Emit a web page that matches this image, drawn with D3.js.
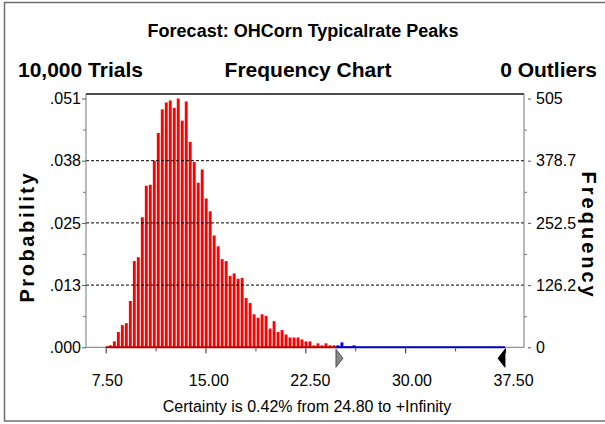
<!DOCTYPE html>
<html>
<head>
<meta charset="utf-8">
<script src="https://cdn.jsdelivr.net/npm/d3@7"></script>
<style>
  html, body { margin: 0; padding: 0; background: #fff; }
  svg { display: block; font-family: "Liberation Sans", Arial, sans-serif; }
</style>
</head>
<body>
<svg id="chart" width="605" height="424"></svg>
<script>
// Forecast histogram: 10,000 trials, bins of 0.3 starting at 7.7
const trials = 10000;
const binStart = 7.7;
const binWidth = 0.3;
const counts = [
  4, 12, 31, 45, 49, 94, 175, 183, 264, 328,
  330, 379, 435, 483, 497, 501, 486, 505, 460, 499,
  417, 376, 334, 361, 302, 276, 227, 205, 179, 175,
  145, 150, 139, 141, 100, 90, 67, 60, 67, 64,
  38, 53, 31, 35, 26, 20, 20, 20, 16, 12,
  12, 4, 8, 4, 8, 4, 4, 4, 10, 2,
  2, 4
];
const certaintyFrom = 24.80;
const displayMin = 7.5;
const displayMax = 37.5;

const xMajorTicks = [7.5, 15, 22.5, 30, 37.5];
const xMinorTicks = [11.25, 18.75, 26.25, 33.75];
const freqTicks = [0, 126.25, 252.5, 378.75, 505];
const freqMinor = [63.125, 189.375, 315.625, 441.875];
const probLabels = [".000", ".013", ".025", ".038", ".051"];
const freqLabels = ["0", "126.2", "252.5", "378.7", "505"];

const titleText = "Forecast: OHCorn Typicalrate Peaks";
const trialsText = "10,000 Trials";
const chartKind = "Frequency Chart";
const outliersText = "0 Outliers";
const certaintyText = "Certainty is 0.42% from 24.80 to +Infinity";

const svg = d3.select("#chart");

const plot = { left: 86, right: 524, top: 94, bottom: 347.3 };

const x = d3.scaleLinear().domain([displayMin, displayMax]).range([105.7, 505]);
// tick captions sit a little right of their tick marks
const xLabel = d3.scaleLinear().domain([displayMin, displayMax]).range([106.7, 513]);
const y = d3.scaleLinear().domain([0, 505]).range([plot.bottom, 98.5]);

// outer frame
svg.append("rect")
  .attr("x", 4.5).attr("y", 2.5).attr("width", 640).attr("height", 418.5)
  .attr("fill", "none").attr("stroke", "#707070").attr("stroke-width", 1.5);

// titles
svg.append("text").attr("x", 303).attr("y", 37)
  .attr("text-anchor", "middle").attr("font-weight", "bold").attr("font-size", 18)
  .text(titleText);
svg.append("text").attr("x", 18).attr("y", 77)
  .attr("font-weight", "bold").attr("font-size", 21).text(trialsText);
svg.append("text").attr("x", 308).attr("y", 77)
  .attr("text-anchor", "middle").attr("font-weight", "bold").attr("font-size", 21)
  .text(chartKind);
svg.append("text").attr("x", 597).attr("y", 77)
  .attr("text-anchor", "end").attr("font-weight", "bold").attr("font-size", 21)
  .text(outliersText);

// bars
const bins = counts.map((c, i) => ({ lo: binStart + i * binWidth, count: c }));
const barW = 2.9;
svg.append("g").selectAll("rect").data(bins).join("rect")
  .attr("x", d => x(d.lo + binWidth / 2) - barW / 2)
  .attr("y", d => y(d.count))
  .attr("width", barW)
  .attr("height", d => y(0) - y(d.count))
  .attr("fill", d => d.lo >= certaintyFrom - 1e-9 ? "#0000ff" : "#ff0000");

// dashed grid lines over the bars
svg.append("g").selectAll("line").data(freqTicks.slice(1, 4)).join("line")
  .attr("x1", plot.left).attr("x2", plot.right)
  .attr("y1", d => y(d)).attr("y2", d => y(d))
  .attr("stroke", "#000").attr("stroke-width", 1).attr("stroke-dasharray", "3,2");

// plot frame
svg.append("line").attr("x1", plot.left).attr("x2", plot.right)
  .attr("y1", plot.top).attr("y2", plot.top).attr("stroke", "#111").attr("stroke-width", 1.5);
svg.append("line").attr("x1", plot.left).attr("x2", plot.left)
  .attr("y1", plot.top).attr("y2", plot.bottom).attr("stroke", "#777");
svg.append("line").attr("x1", plot.right).attr("x2", plot.right)
  .attr("y1", plot.top).attr("y2", plot.bottom).attr("stroke", "#777");
svg.append("line").attr("x1", plot.left).attr("x2", plot.right)
  .attr("y1", plot.bottom).attr("y2", plot.bottom).attr("stroke", "#777");

// colored range along the base line
svg.append("line").attr("x1", x(displayMin)).attr("x2", x(certaintyFrom))
  .attr("y1", plot.bottom).attr("y2", plot.bottom).attr("stroke", "#c00000").attr("stroke-width", 2);
svg.append("line").attr("x1", x(certaintyFrom)).attr("x2", x(displayMax))
  .attr("y1", plot.bottom).attr("y2", plot.bottom).attr("stroke", "#0000c0").attr("stroke-width", 2);

// x axis
const xAxis = svg.append("g").attr("transform", `translate(0,${plot.bottom + 1})`)
  .call(d3.axisBottom(x).tickValues(xMajorTicks).tickSize(5).tickPadding(21)
    .tickFormat(d3.format(".2f")));
xAxis.select(".domain").remove();
xAxis.selectAll(".tick line").attr("stroke", "#222");
xAxis.selectAll(".tick text")
  .attr("x", d => xLabel(d) - x(d))
  .attr("font-size", 16).attr("font-family", "Liberation Sans, Arial, sans-serif").attr("fill", "#000");
const xMinor = svg.append("g").attr("transform", `translate(0,${plot.bottom + 1})`)
  .call(d3.axisBottom(x).tickValues(xMinorTicks).tickSize(3).tickFormat(""));
xMinor.select(".domain").remove();
xMinor.selectAll(".tick line").attr("stroke", "#444");

// left probability axis
const yLeft = svg.append("g").attr("transform", `translate(${plot.left},0)`)
  .call(d3.axisLeft(y).tickValues(freqTicks).tickSize(4).tickPadding(1)
    .tickFormat((d, i) => probLabels[i]));
yLeft.select(".domain").remove();
yLeft.selectAll(".tick line").attr("stroke", "#555");
yLeft.selectAll(".tick text").attr("font-size", 16)
  .attr("font-family", "Liberation Sans, Arial, sans-serif").attr("fill", "#000");
const yLeftMinor = svg.append("g").attr("transform", `translate(${plot.left},0)`)
  .call(d3.axisLeft(y).tickValues(freqMinor).tickSize(3).tickFormat(""));
yLeftMinor.select(".domain").remove();
yLeftMinor.selectAll(".tick line").attr("stroke", "#777");

// right frequency axis
const yRight = svg.append("g").attr("transform", `translate(${plot.right},0)`)
  .call(d3.axisRight(y).tickValues(freqTicks).tickSize(7).tickPadding(5)
    .tickFormat((d, i) => freqLabels[i]));
yRight.select(".domain").remove();
yRight.selectAll(".tick line").attr("x1", 4).attr("stroke", "#555");
yRight.selectAll(".tick text").attr("font-size", 16)
  .attr("font-family", "Liberation Sans, Arial, sans-serif").attr("fill", "#000");
const yRightMinor = svg.append("g").attr("transform", `translate(${plot.right},0)`)
  .call(d3.axisRight(y).tickValues(freqMinor).tickSize(3).tickFormat(""));
yRightMinor.select(".domain").remove();
yRightMinor.selectAll(".tick line").attr("stroke", "#777");

// axis titles
svg.append("text")
  .attr("transform", `translate(34,${(plot.top + plot.bottom) / 2 + 16}) rotate(-90)`)
  .attr("text-anchor", "middle").attr("font-weight", "bold").attr("font-size", 20)
  .attr("letter-spacing", 2.6).text("Probability");
svg.append("text")
  .attr("transform", `translate(582,${(plot.top + plot.bottom) / 2 + 15}) rotate(90)`)
  .attr("text-anchor", "middle").attr("font-weight", "bold").attr("font-size", 20)
  .attr("letter-spacing", 3).text("Frequency");

// range grabbers
const grab = svg.append("g");
const gx0 = x(certaintyFrom), gx1 = x(displayMax);
grab.append("path")
  .attr("d", `M${gx0},${plot.bottom + 2} L${gx0 + 7},${plot.bottom + 11} L${gx0},${plot.bottom + 20} Z`)
  .attr("fill", "#8a8a8a").attr("stroke", "#333").attr("stroke-width", 0.8);
grab.append("path")
  .attr("d", `M${gx1},${plot.bottom + 2} L${gx1 - 7},${plot.bottom + 11} L${gx1},${plot.bottom + 20} Z`)
  .attr("fill", "#000").attr("stroke", "#000").attr("stroke-width", 0.8);

// certainty caption
svg.append("text").attr("x", 307).attr("y", 412)
  .attr("text-anchor", "middle").attr("font-size", 16).text(certaintyText);
</script>
</body>
</html>
